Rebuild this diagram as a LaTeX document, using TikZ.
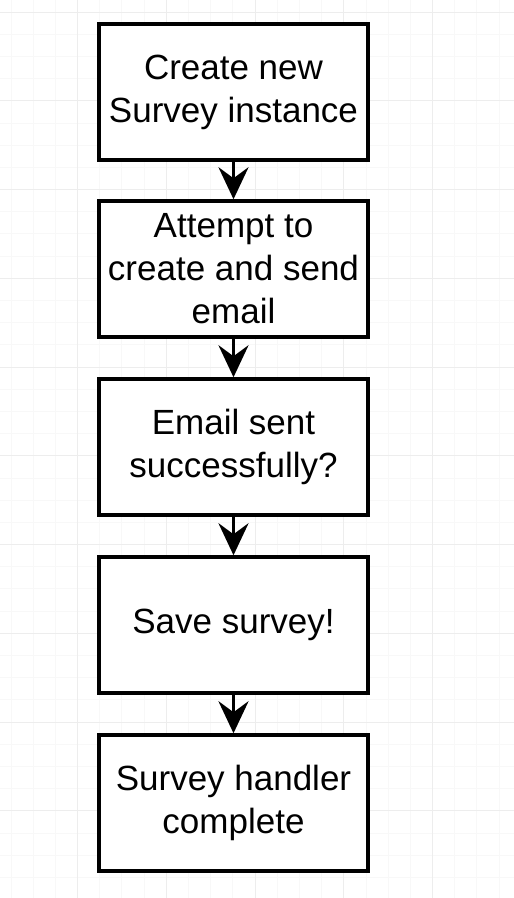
\documentclass[tikz,border=0pt]{standalone}
\usepackage{fontspec}
\setmainfont{Liberation Sans}
\usetikzlibrary{arrows.meta}
\definecolor{gmajor}{HTML}{EDEDED}
\definecolor{gminor}{HTML}{F8F8F8}
\tikzset{
  stepbox/.style={draw=black, line width=3.5pt, fill=white, minimum width=269pt, minimum height=136pt,
    inner sep=0pt, align=center, font=\fontsize{35}{43}\selectfont},
  flowarrow/.style={line width=3.5pt, -{Stealth[length=32pt,width=30pt,inset=11pt]}},
}
\begin{document}
\begin{tikzpicture}[x=1pt,y=-1pt]
\useasboundingbox (0,0) rectangle (514,898);
\fill[white] (0,0) rectangle (514,898);
% minor grid
\foreach \i in {-4,...,24} {
  \draw[gminor, line width=0.8pt] ({77.5+22.1875*\i},0) -- ({77.5+22.1875*\i},898);
}
\foreach \i in {-1,...,40} {
  \draw[gminor, line width=0.8pt] (0,{12+22.1875*\i}) -- (514,{12+22.1875*\i});
}
% major grid
\foreach \i in {-1,...,5} {
  \draw[gmajor, line width=1pt] ({77.5+88.75*\i},0) -- ({77.5+88.75*\i},898);
}
\foreach \i in {0,...,10} {
  \draw[gmajor, line width=1pt] (0,{12+88.75*\i}) -- (514,{12+88.75*\i});
}
\node[stepbox] (b1) at (233.5,92) {\raisebox{-3pt}{\begin{tabular}{@{}c@{}}Create new\\Survey instance\end{tabular}}};
\node[stepbox] (b2) at (233.5,269) {Attempt to\\create and send\\email};
\node[stepbox] (b3) at (233.5,447) {Email sent\\successfully?};
\node[stepbox] (b4) at (233.5,625) {Save survey!};
\node[stepbox] (b5) at (233.5,803) {Survey handler\\complete};
\draw[flowarrow] (b1) -- (b2);
\draw[flowarrow] (b2) -- (b3);
\draw[flowarrow] (b3) -- (b4);
\draw[flowarrow] (b4) -- (b5);
\end{tikzpicture}
\end{document}
